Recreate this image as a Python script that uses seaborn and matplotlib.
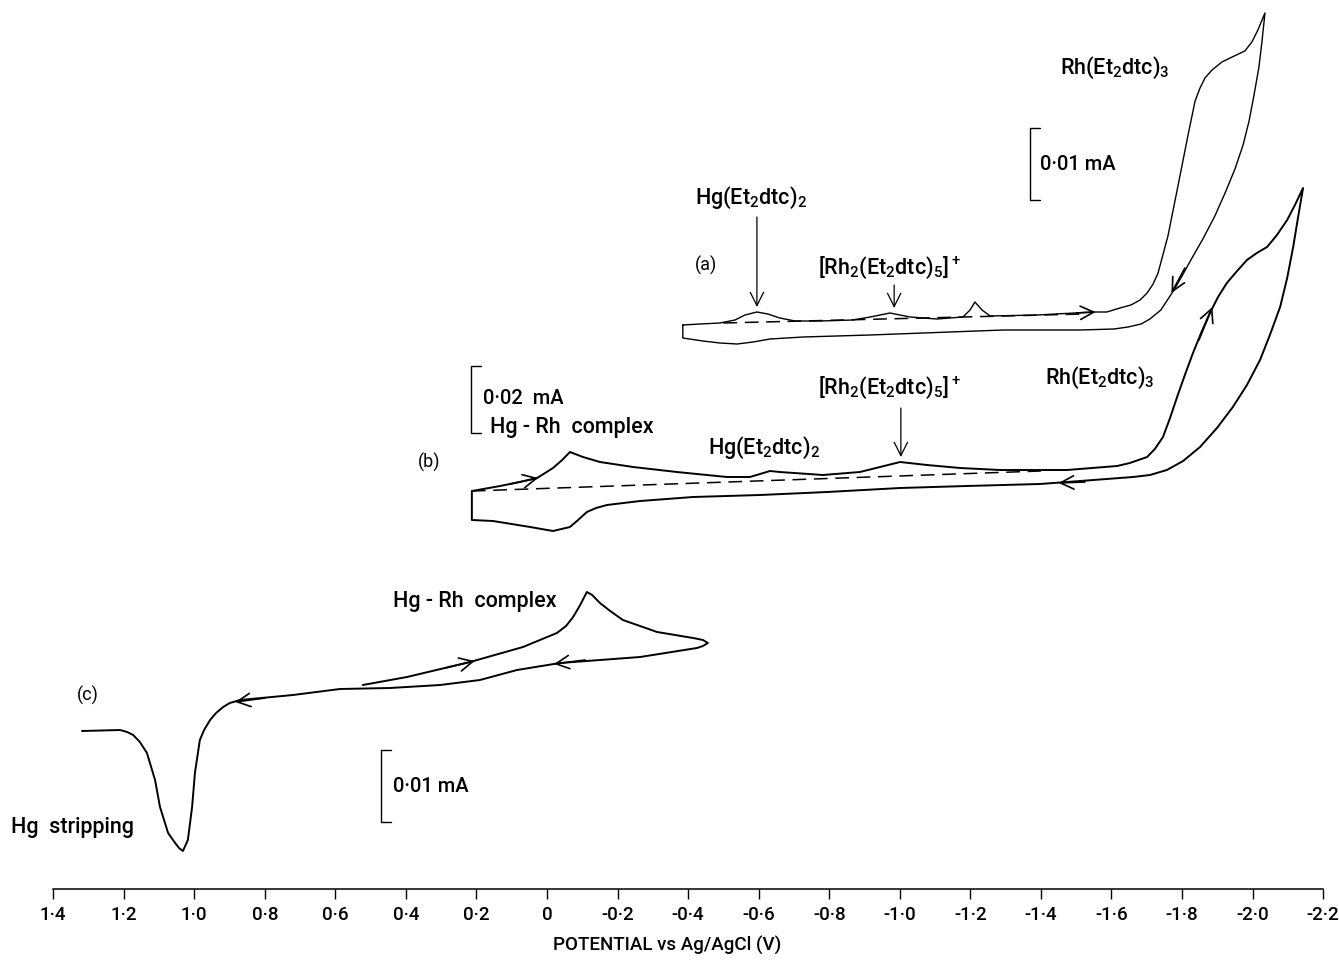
import numpy as np
import pandas as pd
import matplotlib
matplotlib.use("Agg")
import matplotlib.pyplot as plt
import seaborn as sns

# potentials (V vs Ag/AgCl) and offset current (arbitrary units, traces stacked)
trace_a_E = [-0.385, -0.434, -0.490, -0.533, -0.561, -0.595, -0.626, -0.660, -0.703, -0.774,
             -0.867, -0.916, -0.972, -1.029, -1.105, -1.179, -1.199, -1.213, -1.233, -1.256,
             -1.389, -1.548, -1.587, -1.624, -1.655, -1.681, -1.701, -1.718, -1.732, -1.760,
             -1.789, -1.817, -1.837, -1.851, -1.865, -1.885, -1.913, -1.942, -1.978, -1.998,
             -2.015, -2.035,
             -2.027, -2.018, -2.004, -1.990, -1.973, -1.950, -1.922, -1.893, -1.859, -1.825,
             -1.800, -1.777, -1.740, -1.709, -1.684, -1.647, -1.607, -1.511, -1.293, -0.916,
             -0.726, -0.632, -0.584, -0.539, -0.490, -0.442, -0.385, -0.385]
trace_a_i = [635, 636, 637, 640, 645, 648, 646, 642, 639, 639,
             640, 643, 647, 643, 641, 643, 650, 658, 650, 644,
             645, 648, 648, 652, 655, 660, 667, 676, 687, 724,
             775, 825, 859, 872, 882, 890, 898, 903, 909, 918,
             930, 947,
             920, 893, 865, 839, 815, 791, 767, 744, 721, 700,
             684, 670, 650, 641, 636, 633, 631, 630, 630, 625,
             623, 621, 618, 616, 617, 619, 622, 635]

trace_b_E = [0.213, 0.133, 0.077, 0.028, -0.017, -0.043, -0.065, -0.102, -0.150, -0.244,
             -0.368, -0.510, -0.575, -0.604, -0.632, -0.660, -0.782, -0.887, -0.944, -1.001,
             -1.077, -1.171, -1.284, -1.474, -1.616, -1.652, -1.701, -1.723, -1.746, -1.766,
             -1.786, -1.808, -1.831, -1.854, -1.879, -1.902, -1.927, -1.956, -1.984, -2.012,
             -2.041, -2.069, -2.098, -2.120, -2.143,
             -2.129, -2.115, -2.098, -2.078, -2.049, -2.021, -1.984, -1.944, -1.899, -1.851,
             -1.803, -1.757, -1.709, -1.661, -1.474, -1.397, -1.190, -1.001, -0.794, -0.604,
             -0.414, -0.264, -0.170, -0.139, -0.113, -0.088, -0.065, -0.017, 0.048, 0.153,
             0.213, 0.213]
trace_b_i = [469, 474, 478, 482, 492, 500, 508, 503, 498, 493,
             488, 483, 483, 486, 489, 488, 485, 488, 493, 498,
             495, 492, 490, 490, 494, 497, 503, 511, 523, 542,
             563, 585, 607, 627, 647, 663, 677, 689, 700, 707,
             713, 725, 740, 755, 772,
             743, 713, 682, 653, 625, 600, 575, 553, 532, 513,
             499, 490, 485, 483, 478, 476, 474, 472, 468, 465,
             463, 459, 455, 452, 448, 440, 433, 429, 433, 439,
             440, 469]

trace_c_E = [0.522, 0.397, 0.218, 0.068, -0.028, -0.054, -0.074, -0.094, -0.113, -0.128,
             -0.150, -0.179, -0.215, -0.312, -0.414, -0.442, -0.456, -0.442, -0.425, -0.264,
             -0.037, 0.085, 0.190, 0.303, 0.445, 0.587, 0.720, 0.870, 0.899, 0.918,
             0.938, 0.955, 0.972, 0.984, 0.998, 1.006, 1.018, 1.032, 1.043, 1.054,
             1.074, 1.097, 1.111, 1.134, 1.154, 1.173, 1.190, 1.210, 1.318]
trace_c_i = [275, 283, 298, 313, 327, 334, 343, 355, 368, 365,
             357, 349, 340, 328, 322, 320, 317, 314, 312, 303,
             297, 290, 280, 275, 272, 271, 265, 260, 257, 253,
             247, 240, 230, 220, 187, 153, 120, 109, 112, 117,
             127, 153, 180, 207, 218, 225, 228, 230, 229]

# dashed baselines
base_a_E = [-0.50, -1.52]
base_a_i = [637, 646]
base_b_E = [0.213, -1.40]
base_b_i = [469, 489]

tick_values = [1.4, 1.2, 1.0, 0.8, 0.6, 0.4, 0.2, 0.0, -0.2, -0.4, -0.6, -0.8,
               -1.0, -1.2, -1.4, -1.6, -1.8, -2.0, -2.2]
tick_labels = ["1·4", "1·2", "1·0", "0·8", "0·6", "0·4", "0·2", "0", "-0·2", "-0·4",
               "-0·6", "-0·8", "-1·0", "-1·2", "-1·4", "-1·6", "-1·8", "-2·0", "-2·2"]

sns.set_theme(style="white")
plt.rcParams["font.family"] = ["Roboto", "DejaVu Sans"]
plt.rcParams["mathtext.default"] = "regular"

fig = plt.figure(figsize=(13.39, 9.6), dpi=100)
ax = fig.add_axes([0, 0, 1, 1])
ax.set_xlim(1.5505, -2.2449)
ax.set_ylim(0, 960)

for E, cur, w in [(trace_a_E, trace_a_i, 1.0), (trace_b_E, trace_b_i, 1.4),
                  (trace_c_E, trace_c_i, 1.4)]:
    df = pd.DataFrame({"E": E, "i": cur})
    sns.lineplot(data=df, x="E", y="i", sort=False, estimator=None,
                 color="black", lw=w, ax=ax, solid_joinstyle="round")
for E, cur in [(base_a_E, base_a_i), (base_b_E, base_b_i)]:
    df = pd.DataFrame({"E": E, "i": cur})
    sns.lineplot(data=df, x="E", y="i", sort=False, estimator=None,
                 color="black", lw=1.1, ax=ax, linestyle=(0, (9, 5)))

# scan direction arrows (tail -> head)
scan_arrows = [((-1.50, 647), (-1.555, 648)),
               ((-1.808, 692), (-1.770, 667)),
               ((0.105, 476), (0.025, 482)),
               ((-1.848, 620), (-1.886, 653)),
               ((-1.525, 478), (-1.450, 477)),
               ((0.289, 292), (0.205, 299)),
               ((-0.108, 300), (-0.020, 296)),
               ((0.799, 262), (0.884, 258))]
for tail, head in scan_arrows:
    ax.annotate("", xy=head, xytext=tail,
                arrowprops=dict(arrowstyle="->,head_length=0.8,head_width=0.4",
                                color="black", lw=1.2, shrinkA=0, shrinkB=0))

# peak assignment arrows
for E, y0, y1 in [(-0.595, 743, 653), (-0.984, 675, 652), (-1.003, 552, 503)]:
    ax.annotate("", xy=(E, y1), xytext=(E, y0),
                arrowprops=dict(arrowstyle="->,head_length=0.8,head_width=0.4",
                                color="black", lw=0.9, shrinkA=0, shrinkB=0))

# current scale brackets
tick_len = 0.028
for E, top, bot in [(-1.369, 832, 760), (0.215, 594, 527), (0.471, 210, 138)]:
    ax.plot([E - tick_len, E, E, E - tick_len], [top, top, bot, bot],
            color="black", lw=1.0)

fs = 15.5
labels = [
    (-1.454, 892, r"Rh(Et$_2$dtc)$_3$", fs, "medium"),
    (-1.397, 795, "0·01 mA", fs - 1, "medium"),
    (-0.420, 762, r"Hg(Et$_2$dtc)$_2$", fs, "medium"),
    (-0.420, 695, "(a)", fs - 2.5, "normal"),
    (-0.768, 692, r"[Rh$_2$(Et$_2$dtc)$_5$]$^+$", fs, "medium"),
    (0.181, 562, "0·02  mA", fs - 1, "medium"),
    (0.162, 532, "Hg - Rh  complex", fs, "medium"),
    (0.366, 498, "(b)", fs - 2.5, "normal"),
    (-0.456, 512, r"Hg(Et$_2$dtc)$_2$", fs, "medium"),
    (-0.768, 572, r"[Rh$_2$(Et$_2$dtc)$_5$]$^+$", fs, "medium"),
    (-1.412, 582, r"Rh(Et$_2$dtc)$_3$", fs, "medium"),
    (0.437, 359, "Hg - Rh  complex", fs, "medium"),
    (1.332, 265, "(c)", fs - 2.5, "normal"),
    (0.437, 174, "0·01 mA", fs - 1, "medium"),
    (1.519, 132, "Hg  stripping", fs, "medium"),
]
for E, y, txt, size, weight in labels:
    ax.text(E, y, txt, fontsize=size, ha="left", va="center", color="black",
            fontweight=weight)

# potential axis
for s in ["left", "right", "top"]:
    ax.spines[s].set_visible(False)
ax.spines["bottom"].set_position(("data", 71))
ax.spines["bottom"].set_bounds(1.4, -2.2)
ax.spines["bottom"].set_linewidth(1.1)
ax.spines["bottom"].set_color("black")
ax.set_yticks([])
ax.set_xticks(tick_values)
ax.set_xticklabels(tick_labels, fontsize=13.5, fontweight="medium")
ax.tick_params(axis="x", direction="out", length=7, width=1, color="black",
               pad=5, bottom=True, labelcolor="black")
ax.set_xlabel("")
ax.set_ylabel("")
ax.text(-0.34, 15, "POTENTIAL vs Ag/AgCl (V)", fontsize=13.5, ha="center",
        va="center", color="black", fontweight="medium")

fig.savefig("out.png", dpi=100)
